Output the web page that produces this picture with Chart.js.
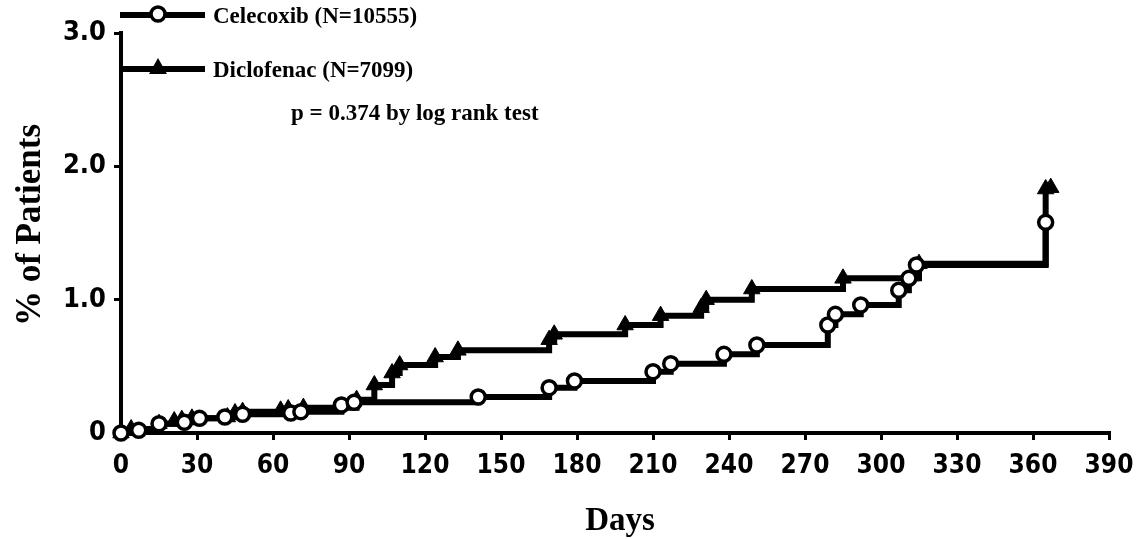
<!DOCTYPE html>
<html>
<head>
<meta charset="utf-8">
<script src="https://cdn.jsdelivr.net/npm/chart.js@4.4.1/dist/chart.umd.min.js"></script>
<style>
  html, body { margin: 0; padding: 0; background: #fff; }
  #wrap { width: 1139px; height: 539px; position: relative; }
</style>
</head>
<body>
<div id="wrap"><canvas id="kmChart" width="1139" height="539"></canvas></div>
<script>
/* ---------- data ---------- */
const celecoxibDays = [0, 7, 15, 25, 31, 41, 48, 67, 71, 87, 92, 141, 169, 179, 210, 217, 238, 251, 279, 282, 292, 307, 311, 314, 365];
const celecoxibPct  = [0, 0.02, 0.07, 0.08, 0.11, 0.12, 0.14, 0.15, 0.16, 0.21, 0.23, 0.27, 0.34, 0.39, 0.46, 0.52, 0.59, 0.66, 0.81, 0.89, 0.96, 1.07, 1.16, 1.26, 1.58];

const diclofenacDays = [0, 4, 15, 21, 24, 28, 42, 45, 48, 63, 66, 72, 93, 100, 107, 110, 124, 133, 169, 171, 199, 213, 229, 231, 249, 285, 315, 365, 367];
const diclofenacPct  = [0, 0.03, 0.07, 0.09, 0.10, 0.11, 0.12, 0.15, 0.16, 0.17, 0.18, 0.19, 0.25, 0.36, 0.45, 0.51, 0.57, 0.62, 0.70, 0.74, 0.81, 0.88, 0.94, 1.00, 1.08, 1.16, 1.27, 1.83, 1.84];

const xTicks = [0, 30, 60, 90, 120, 150, 180, 210, 240, 270, 300, 330, 360, 390];
const yTicks = [0, 1, 2, 3];
const yTickLabels = ["0", "1.0", "2.0", "3.0"];

const seriesNames = ["Celecoxib (N=10555)", "Diclofenac (N=7099)"];
const pValueNote = "p = 0.374 by log rank test";
const xTitle = "Days";
const yTitle = "% of Patients";

/* ---------- fonts ---------- */
const tickFamily = "'Liberation Sans Narrow', 'DejaVu Sans Condensed', sans-serif";
const serifFamily = "'Liberation Serif', 'DejaVu Serif', serif";

function toPoints(days, vals) {
  return days.map((d, i) => ({ x: d, y: vals[i] }));
}

/* legend + axis titles drawn by hand */
const legendPlugin = {
  id: "kmLegend",
  afterDraw(chart) {
    const ctx = chart.ctx;
    const rows = [
      { y: 15, style: "circle", text: seriesNames[0] },
      { y: 69, style: "triangle", text: seriesNames[1] }
    ];
    ctx.save();
    rows.forEach((r) => {
      ctx.strokeStyle = "#000";
      ctx.lineWidth = 6;
      ctx.beginPath();
      ctx.moveTo(120, r.y);
      ctx.lineTo(205, r.y);
      ctx.stroke();
      if (r.style === "circle") {
        ctx.fillStyle = "#fff";
        ctx.lineWidth = 3.5;
        ctx.beginPath();
        ctx.arc(158, r.y - 1, 7, 0, Math.PI * 2);
        ctx.fill();
        ctx.stroke();
      } else {
        ctx.fillStyle = "#000";
        ctx.beginPath();
        ctx.moveTo(158, r.y - 11);
        ctx.lineTo(167, r.y + 5);
        ctx.lineTo(149, r.y + 5);
        ctx.closePath();
        ctx.fill();
      }
      ctx.fillStyle = "#000";
      ctx.font = "bold 23px " + serifFamily;
      ctx.textBaseline = "middle";
      ctx.textAlign = "left";
      ctx.fillText(r.text, 213, r.y + 2);
    });
    ctx.fillText(pValueNote, 291, 114);

    // axis titles
    ctx.font = "bold 33px " + serifFamily;
    ctx.textAlign = "center";
    ctx.fillText(xTitle, 620, 521);
    ctx.translate(31, 225);
    ctx.rotate(-Math.PI / 2);
    ctx.font = "bold 35px " + serifFamily;
    ctx.fillText(yTitle, 0, 0);
    ctx.restore();
  }
};

const ctx = document.getElementById("kmChart").getContext("2d");

new Chart(ctx, {
  type: "line",
  data: {
    datasets: [
      {
        label: seriesNames[0],
        data: toPoints(celecoxibDays, celecoxibPct),
        stepped: true,
        borderColor: "#000",
        borderWidth: 6,
        pointStyle: "circle",
        pointRadius: 7,
        pointBorderWidth: 3.5,
        pointBackgroundColor: "#fff",
        pointBorderColor: "#000",
        clip: false
      },
      {
        label: seriesNames[1],
        data: toPoints(diclofenacDays, diclofenacPct),
        stepped: true,
        borderColor: "#000",
        borderWidth: 6,
        pointStyle: "triangle",
        pointRadius: 9.5,
        pointBorderWidth: 1,
        pointBackgroundColor: "#000",
        pointBorderColor: "#000",
        clip: false
      }
    ]
  },
  options: {
    responsive: false,
    animation: false,
    events: [],
    layout: { padding: { top: 33, right: 30, left: 0, bottom: 0 } },
    plugins: {
      legend: { display: false },
      tooltip: { enabled: false }
    },
    scales: {
      x: {
        type: "linear",
        min: 0,
        max: 390,
        afterBuildTicks: (scale) => {
          scale.ticks = xTicks.map((v) => ({ value: v }));
        },
        afterFit: (scale) => {
          scale.height = 106;
          scale.paddingRight = 0;
        },
        border: { color: "#000", width: 4 },
        grid: { drawOnChartArea: false, color: "#000", lineWidth: 3, tickLength: 7 },
        ticks: {
          color: "#000",
          font: { family: tickFamily, size: 26, weight: "bold" },
          padding: 11,
          maxRotation: 0
        }
      },
      y: {
        type: "linear",
        min: 0,
        max: 3,
        afterBuildTicks: (scale) => {
          scale.ticks = yTicks.map((v) => ({ value: v }));
        },
        afterFit: (scale) => { scale.width = 121; },
        border: { color: "#000", width: 4 },
        grid: { drawOnChartArea: false, color: "#000", lineWidth: 3, tickLength: 7 },
        ticks: {
          color: "#000",
          font: { family: tickFamily, size: 27, weight: "bold" },
          padding: 8,
          callback: (v) => yTickLabels[yTicks.indexOf(v)]
        }
      }
    }
  },
  plugins: [legendPlugin]
});
</script>
</body>
</html>
